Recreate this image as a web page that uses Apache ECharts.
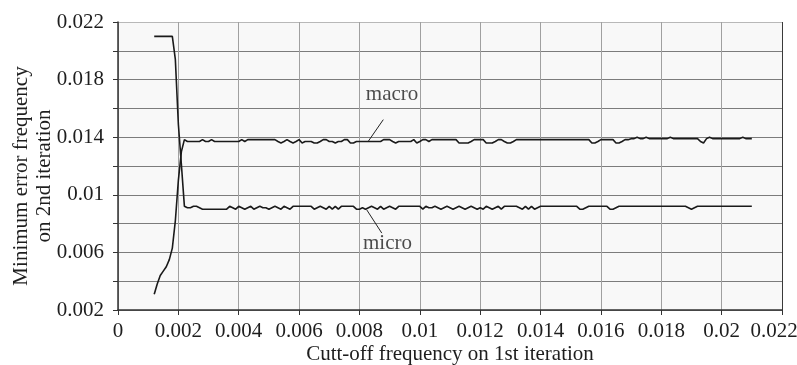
<!DOCTYPE html>
<html>
<head>
<meta charset="utf-8">
<script src="https://cdn.jsdelivr.net/npm/echarts@6/dist/echarts.min.js"></script>
<style>
html,body{margin:0;padding:0;background:#fff;}
#chart{width:797px;height:365px;}
</style>
</head>
<body>
<div id="chart"></div>
<script>
// Cut-off frequency on 1st iteration (sampling grid)
const cutoff = [
0.0012,0.0013,0.0014,0.0015,0.0016,0.0017,0.0018,0.0019,0.0020,0.0021,
0.0022,0.0023,0.0024,0.0025,0.0026,0.0027,0.0028,0.0029,0.0030,0.0031,
0.0032,0.0033,0.0034,0.0035,0.0036,0.0037,0.0038,0.0039,0.0040,0.0041,
0.0042,0.0043,0.0044,0.0045,0.0046,0.0047,0.0048,0.0049,0.0050,0.0051,
0.0052,0.0053,0.0054,0.0055,0.0056,0.0057,0.0058,0.0059,0.0060,0.0061,
0.0062,0.0063,0.0064,0.0065,0.0066,0.0067,0.0068,0.0069,0.0070,0.0071,
0.0072,0.0073,0.0074,0.0075,0.0076,0.0077,0.0078,0.0079,0.0080,0.0081,
0.0082,0.0083,0.0084,0.0085,0.0086,0.0087,0.0088,0.0089,0.0090,0.0091,
0.0092,0.0093,0.0094,0.0095,0.0096,0.0097,0.0098,0.0099,0.0100,0.0101,
0.0102,0.0103,0.0104,0.0105,0.0106,0.0107,0.0108,0.0109,0.0110,0.0111,
0.0112,0.0113,0.0114,0.0115,0.0116,0.0117,0.0118,0.0119,0.0120,0.0121,
0.0122,0.0123,0.0124,0.0125,0.0126,0.0127,0.0128,0.0129,0.0130,0.0131,
0.0132,0.0133,0.0134,0.0135,0.0136,0.0137,0.0138,0.0139,0.0140,0.0141,
0.0142,0.0143,0.0144,0.0145,0.0146,0.0147,0.0148,0.0149,0.0150,0.0151,
0.0152,0.0153,0.0154,0.0155,0.0156,0.0157,0.0158,0.0159,0.0160,0.0161,
0.0162,0.0163,0.0164,0.0165,0.0166,0.0167,0.0168,0.0169,0.0170,0.0171,
0.0172,0.0173,0.0174,0.0175,0.0176,0.0177,0.0178,0.0179,0.0180,0.0181,
0.0182,0.0183,0.0184,0.0185,0.0186,0.0187,0.0188,0.0189,0.0190,0.0191,
0.0192,0.0193,0.0194,0.0195,0.0196,0.0197,0.0198,0.0199,0.0200,0.0201,
0.0202,0.0203,0.0204,0.0205,0.0206,0.0207,0.0208,0.0209,0.0210
];

// macro-averaged minimum error frequency on 2nd iteration
const macro = [
0.0031,0.0038,0.0044,0.0047,0.0050,0.0055,0.0063,0.0082,0.0110,0.0130,
0.01383,0.0137,0.0137,0.0137,0.0137,0.0137,0.01383,0.0137,0.0137,0.01383,
0.0137,0.0137,0.0137,0.0137,0.0137,0.0137,0.0137,0.0137,0.0137,0.01383,
0.0137,0.01383,0.01383,0.01383,0.01383,0.01383,0.01383,0.01383,0.01383,0.01383,
0.01383,0.0137,0.0136,0.0137,0.01383,0.0137,0.0136,0.0137,0.01383,0.0136,
0.0137,0.0137,0.0137,0.0136,0.0136,0.0137,0.01383,0.01383,0.0137,0.0137,
0.0136,0.0137,0.0137,0.01383,0.01383,0.0136,0.0136,0.0137,0.0137,0.0137,
0.0137,0.0137,0.0137,0.0137,0.0137,0.0137,0.01383,0.01383,0.01383,0.0137,
0.0136,0.0137,0.0137,0.0137,0.0137,0.0137,0.01383,0.0136,0.0137,0.01383,
0.01383,0.0137,0.01383,0.01383,0.01383,0.01383,0.01383,0.01383,0.01383,0.01383,
0.01383,0.0136,0.0136,0.0136,0.0136,0.0137,0.01383,0.01383,0.01383,0.01383,
0.0136,0.0136,0.0136,0.0137,0.01383,0.01383,0.0137,0.0136,0.0136,0.0137,
0.01383,0.01383,0.01383,0.01383,0.01383,0.01383,0.01383,0.01383,0.01383,0.01383,
0.01383,0.01383,0.01383,0.01383,0.01383,0.01383,0.01383,0.01383,0.01383,0.01383,
0.01383,0.01383,0.01383,0.01383,0.01383,0.0136,0.0136,0.0137,0.01383,0.01383,
0.01383,0.01383,0.01383,0.0136,0.0136,0.0137,0.01383,0.01383,0.0139,0.0139,
0.0140,0.0139,0.0139,0.0140,0.0139,0.0139,0.0139,0.0139,0.0139,0.0139,
0.0139,0.0140,0.0139,0.0139,0.0139,0.0139,0.0139,0.0139,0.0139,0.0139,
0.0139,0.0137,0.0136,0.0139,0.0140,0.0139,0.0139,0.0139,0.0139,0.0139,
0.0139,0.0139,0.0139,0.0139,0.0139,0.0140,0.0139,0.0139,0.0139
];

// micro-averaged minimum error frequency on 2nd iteration
const micro = [
0.0210,0.0210,0.0210,0.0210,0.0210,0.0210,0.0210,0.0194,0.0149,0.0121,
0.0092,0.0091,0.0091,0.0092,0.0092,0.0091,0.0090,0.0090,0.0090,0.0090,
0.0090,0.0090,0.0090,0.0090,0.0090,0.0092,0.0091,0.0090,0.0092,0.0091,
0.0090,0.0091,0.0092,0.0090,0.0091,0.0092,0.0091,0.0091,0.0090,0.0091,
0.0092,0.0091,0.0090,0.0092,0.0091,0.0090,0.0092,0.0092,0.0092,0.0092,
0.0092,0.0092,0.0092,0.0090,0.0091,0.0092,0.0091,0.0090,0.0092,0.0090,
0.0092,0.0090,0.0092,0.0092,0.0092,0.0092,0.0092,0.0090,0.0090,0.0091,
0.0090,0.0091,0.0092,0.0091,0.0090,0.0092,0.0090,0.0091,0.0092,0.0091,
0.0090,0.0092,0.0092,0.0092,0.0092,0.0092,0.0092,0.0092,0.0092,0.0090,
0.0092,0.0091,0.0091,0.0092,0.0091,0.0090,0.0091,0.0092,0.0091,0.0090,
0.0091,0.0092,0.0091,0.0090,0.0091,0.0092,0.0091,0.0090,0.0091,0.0090,
0.0092,0.0091,0.0090,0.0091,0.0092,0.0090,0.0092,0.0092,0.0092,0.0092,
0.0092,0.0091,0.0090,0.0092,0.0090,0.0092,0.0090,0.0091,0.0092,0.0092,
0.0092,0.0092,0.0092,0.0092,0.0092,0.0092,0.0092,0.0092,0.0092,0.0092,
0.0092,0.0090,0.0090,0.0091,0.0092,0.0092,0.0092,0.0092,0.0092,0.0092,
0.0092,0.0090,0.0090,0.0091,0.0092,0.0092,0.0092,0.0092,0.0092,0.0092,
0.0092,0.0092,0.0092,0.0092,0.0092,0.0092,0.0092,0.0092,0.0092,0.0092,
0.0092,0.0092,0.0092,0.0092,0.0092,0.0092,0.0092,0.0091,0.0090,0.0091,
0.0092,0.0092,0.0092,0.0092,0.0092,0.0092,0.0092,0.0092,0.0092,0.0092,
0.0092,0.0092,0.0092,0.0092,0.0092,0.0092,0.0092,0.0092,0.0092
];

const xTickLabels = ['0','0.002','0.004','0.006','0.008','0.01','0.012','0.014','0.016','0.018','0.02','0.022'];
const yTickLabels = ['0.002','','0.006','','0.01','','0.014','','0.018','','0.022'];

// annotation anchors (data coordinates)
const macroLabel = {text:'macro', at:[0.00908, 0.01696], leader:[[0.00879,0.01522],[0.00829,0.01371]]};
const microLabel = {text:'micro', at:[0.00893, 0.00659], leader:[[0.00824,0.00896],[0.00874,0.00734]]};

const FONT = '"Liberation Serif", "DejaVu Serif", serif';
const TXT = '#1e1e1e';

const macroData = cutoff.map((x,i)=>[x, macro[i]]);
const microData = cutoff.map((x,i)=>[x, micro[i]]);

const xSplitColors = xTickLabels.map((_,i)=> i===xTickLabels.length-1 ? '#3a3a3a' : '#a0a0a0');
const ySplitColors = yTickLabels.map((_,i)=> i===yTickLabels.length-1 ? '#b8b8b8' : '#7c7c7c');

function leaderSeries(l){
  return {type:'line', data:l.leader, symbol:'none', silent:true, z:3,
    lineStyle:{color:'#222', width:1}};
}
function labelSeries(l){
  return {type:'scatter', data:[l.at], symbolSize:1, silent:true, z:4,
    itemStyle:{color:'rgba(0,0,0,0)'},
    label:{show:true, position:'inside', formatter:l.text, fontFamily:FONT, fontSize:21, color:TXT}};
}

const chart = echarts.init(document.getElementById('chart'), null, {renderer:'canvas'});
chart.setOption({
  animation:false,
  backgroundColor:'#ffffff',
  grid:{left:118, right:15, top:22, bottom:55, show:true, backgroundColor:'#f8f8f8', borderWidth:0,
    containLabel:false, outerBoundsMode:'none'},
  xAxis:{
    type:'value', min:0, max:0.022, interval:0.002,
    name:'Cutt-off frequency on 1st iteration', nameLocation:'middle', nameGap:34, nameMoveOverlap:false,
    nameTextStyle:{fontFamily:FONT, fontSize:21, color:TXT},
    axisLine:{show:true, lineStyle:{color:'#333', width:1.5}},
    axisTick:{show:true, length:5, lineStyle:{color:'#333'}},
    axisLabel:{margin:11, fontFamily:FONT, fontSize:21, color:TXT,
      formatter:v=>{
        const i = Math.round(v/0.002);
        return i===xTickLabels.length-1 ? '{last|'+xTickLabels[i]+'}' : xTickLabels[i];
      },
      rich:{last:{fontFamily:FONT, fontSize:21, color:TXT, padding:[0,16,0,0]}}},
    splitLine:{show:true, lineStyle:{color:xSplitColors, width:1}}
  },
  yAxis:{
    type:'value', min:0.002, max:0.022, interval:0.002,
    name:'Minimum error frequency\non 2nd iteration', nameLocation:'middle', nameRotate:90, nameGap:62, nameMoveOverlap:false,
    nameTextStyle:{fontFamily:FONT, fontSize:21, color:TXT, lineHeight:23, padding:[0,20,0,0]},
    axisLine:{show:true, lineStyle:{color:'#333', width:1.5}},
    axisTick:{show:true, length:5, lineStyle:{color:'#333'}},
    axisLabel:{margin:14, fontFamily:FONT, fontSize:21, color:TXT,
      formatter:v=>yTickLabels[Math.round((v-0.002)/0.002)]},
    splitLine:{show:true, lineStyle:{color:ySplitColors, width:1}}
  },
  series:[
    {name:'macro', type:'line', data:macroData, symbol:'none', z:5,
      lineStyle:{color:'#1a1a1a', width:1.6}},
    {name:'micro', type:'line', data:microData, symbol:'none', z:5,
      lineStyle:{color:'#1a1a1a', width:1.6}},
    leaderSeries(macroLabel), leaderSeries(microLabel),
    labelSeries(macroLabel), labelSeries(microLabel)
  ]
});
</script>
</body>
</html>
